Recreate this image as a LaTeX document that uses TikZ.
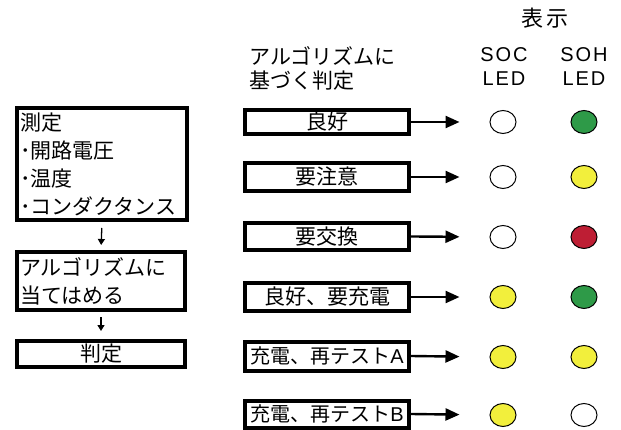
\documentclass[tikz,border=0pt]{standalone}
\usepackage{fontspec}
\setmainfont{Noto Sans CJK JP}
\newfontfamily\lat[LetterSpace=10]{Liberation Sans}
\newfontfamily\latn{Liberation Sans}
\usetikzlibrary{arrows.meta,shapes.geometric}
\definecolor{ledgreen}{HTML}{2E9A48}
\definecolor{ledyellow}{HTML}{F2EF3C}
\definecolor{ledred}{HTML}{BE1E34}
\begin{document}
\begin{tikzpicture}[x=1pt,y=-1pt,
  every node/.style={font=\fontsize{21}{28}\selectfont, inner sep=0pt},
  lbox/.style={draw, line width=4pt, rectangle, align=left},
  mbox/.style={draw, line width=4pt, rectangle, minimum width=164pt},
  led/.style={ellipse, draw, line width=1pt, minimum width=26pt, minimum height=23pt},
  marr/.style={line width=2.4pt, -{Triangle[length=14pt,width=12pt]}, shorten >=30pt},
  sarr/.style={line width=1.3pt, -{Triangle[length=6pt,width=7pt]}}
]
\useasboundingbox (0,0) rectangle (621,430);
% headers
\node[font=\fontsize{22}{24}\selectfont] (hdisp) at (545,18.5) {表\kern4pt示};
\node[align=left, anchor=west, font=\fontsize{21}{24}\selectfont] (halg) at (249,68) {アルゴリズムに\\基づく判定};
\node[align=center, font=\fontsize{20}{24}\selectfont\lat] (hsoc) at (504,67) {SOC\\LED};
\node[align=center, font=\fontsize{20}{24}\selectfont\lat] (hsoh) at (584,67) {SOH\\LED};
% left column
\node[lbox, minimum width=170pt, minimum height=112pt, text width=164pt] (b1) at (102,164)
  {測定\\･開路電圧\\･温度\\･コンダクタンス};
\node[lbox, minimum width=168pt, minimum height=58pt, text width=162pt] (b2) at (101,281)
  {アルゴリズムに\\当てはめる};
\node[lbox, minimum width=168pt, minimum height=26pt, align=center] (b3) at (101,354) {判定};
\draw[sarr, shorten <=6pt, shorten >=5pt] (b1.south) -- (b2.north);
\draw[sarr, shorten <=5pt, shorten >=8pt] (b2.south) -- (b3.north);
% middle column
\node[mbox, minimum height=24pt] (m1) at (327,122) {良好};
\node[mbox, minimum height=28pt] (m2) at (327,177) {要注意};
\node[mbox, minimum height=27pt] (m3) at (327,236.5) {要交換};
\node[mbox, minimum height=28pt] (m4) at (327,297) {良好、要充電};
\node[mbox, minimum height=29pt, font=\fontsize{20}{24}\selectfont] (m5) at (327,356) {充電、再テスト{\latn A}};
\node[mbox, minimum height=27pt, font=\fontsize{20}{24}\selectfont] (m6) at (327,414) {充電、再テスト{\latn B}};
% LEDs
\node[led, fill=white] (s1) at (503,122) {};
\node[led, fill=ledgreen] (h1) at (584,122) {};
\node[led, fill=white] (s2) at (503,177) {};
\node[led, fill=ledyellow] (h2) at (584,177) {};
\node[led, fill=white] (s3) at (503,237) {};
\node[led, fill=ledred] (h3) at (584,237) {};
\node[led, fill=ledyellow] (s4) at (503,297) {};
\node[led, fill=ledgreen] (h4) at (584,297) {};
\node[led, fill=ledyellow] (s5) at (503,357) {};
\node[led, fill=ledyellow] (h5) at (584,357) {};
\node[led, fill=ledyellow] (s6) at (503,415) {};
\node[led, fill=white] (h6) at (584,415) {};
% arrows
\foreach \i in {1,...,6} {
  \draw[marr] (m\i.east) -- (s\i.west);
}
\end{tikzpicture}
\end{document}
